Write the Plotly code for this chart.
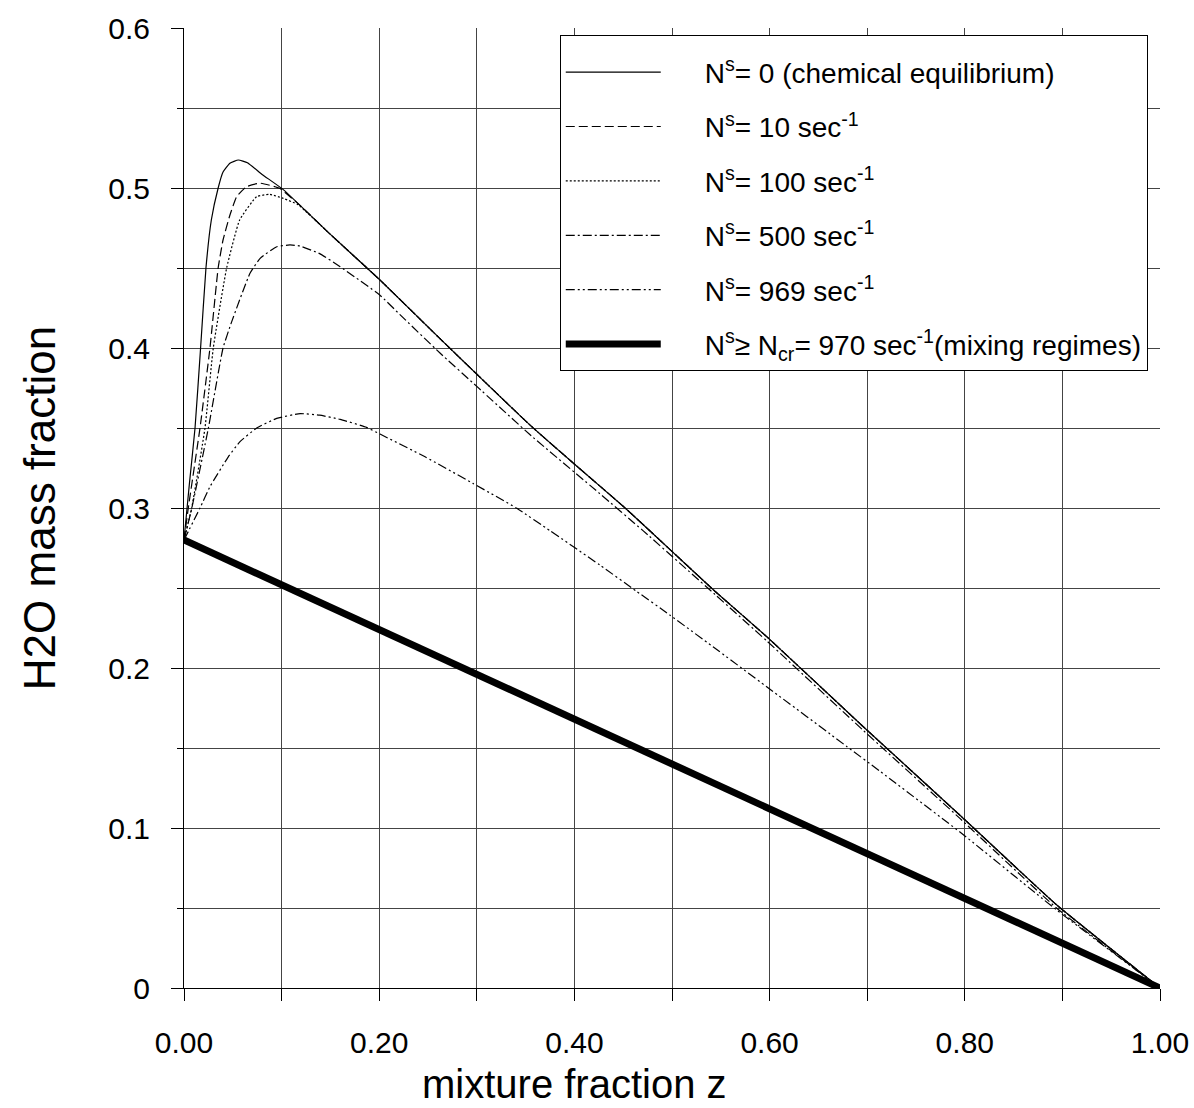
import plotly.graph_objects as go

# ---- data ----
z_eq = [0, 0.0055, 0.0113, 0.017, 0.0225, 0.028, 0.035, 0.040, 0.047, 0.0557, 0.065, 0.08, 0.1017,
        0.15, 0.2008, 0.262, 0.356, 0.399, 0.452, 0.498, 0.544, 0.597, 0.696, 0.795, 0.894, 1.0]
y_eq = [0.28, 0.315, 0.35, 0.40, 0.45, 0.48, 0.50, 0.510, 0.5155, 0.5175, 0.5158, 0.5085, 0.499,
        0.471, 0.4425, 0.406, 0.351, 0.328, 0.300, 0.274, 0.248, 0.2196, 0.1633, 0.108, 0.052, 0.0]

z_10 = [0, 0.0044, 0.0164, 0.0266, 0.035, 0.040, 0.047, 0.054, 0.064, 0.078, 0.098, 0.12,
        0.15, 0.2008, 0.262, 0.356, 0.399, 0.452, 0.498, 0.544, 0.597, 0.696, 0.795, 0.894, 1.0]
y_10 = [0.28, 0.30, 0.35, 0.40, 0.45, 0.4675, 0.483, 0.4946, 0.5008, 0.503, 0.4998, 0.4885,
        0.471, 0.4425, 0.406, 0.351, 0.328, 0.300, 0.274, 0.248, 0.2196, 0.1633, 0.108, 0.052, 0.0]

z_100 = [0, 0.0079, 0.0215, 0.030, 0.0437, 0.057, 0.0745, 0.088, 0.1017, 0.117,
         0.15, 0.2008, 0.262, 0.356, 0.399, 0.452, 0.498, 0.544, 0.597, 0.696, 0.795, 0.894, 1.0]
y_100 = [0.28, 0.30, 0.35, 0.40, 0.45, 0.48, 0.4946, 0.496, 0.4935, 0.4895,
         0.471, 0.4425, 0.406, 0.351, 0.328, 0.300, 0.274, 0.248, 0.2196, 0.1633, 0.108, 0.052, 0.0]

z_500 = [0, 0.008, 0.025, 0.040, 0.0489, 0.0676, 0.078, 0.095, 0.1086, 0.119, 0.139, 0.16,
         0.2008, 0.221, 0.262, 0.30, 0.356, 0.426, 0.47, 0.544, 0.597, 0.696, 0.795, 0.894, 1.0]
y_500 = [0.28, 0.30, 0.35, 0.40, 0.4165, 0.4467, 0.456, 0.4633, 0.4644, 0.4637, 0.459, 0.4508,
         0.433, 0.421, 0.397, 0.376, 0.345, 0.309, 0.286, 0.246, 0.217, 0.161, 0.106, 0.050, 0.0]

z_969 = [0, 0.0164, 0.0266, 0.0454, 0.0574, 0.0745, 0.095, 0.119, 0.139, 0.16, 0.187, 0.2008,
         0.247, 0.296, 0.341, 0.375, 0.426, 0.464, 0.498, 0.542, 0.597, 0.679, 0.713, 0.795,
         0.894, 0.976, 1.0]
y_969 = [0.28, 0.30, 0.3133, 0.332, 0.3415, 0.350, 0.356, 0.359, 0.358, 0.3554, 0.3504, 0.3462,
         0.332, 0.3154, 0.2998, 0.2858, 0.2644, 0.2478, 0.233, 0.2133, 0.1883, 0.151, 0.1355,
         0.0975, 0.0488, 0.011, 0.0]

z_mix = [0, 1.0]
y_mix = [0.28, 0.0]

pad = "\u00a0" * 5
names = [
    pad + "N<sup>s</sup>= 0 (chemical equilibrium)",
    pad + "N<sup>s</sup>= 10 sec<sup>-1</sup>",
    pad + "N<sup>s</sup>= 100 sec<sup>-1</sup>",
    pad + "N<sup>s</sup>= 500 sec<sup>-1</sup>",
    pad + "N<sup>s</sup>= 969 sec<sup>-1</sup>",
    pad + "N<sup>s</sup>≥ N<sub>cr</sub>= 970 sec<sup>-1</sup>(mixing regimes)",
]

x_ticks = [0.0, 0.2, 0.4, 0.6, 0.8, 1.0]
y_ticks = [0, 0.1, 0.2, 0.3, 0.4, 0.5, 0.6]

series = [
    (z_eq, y_eq, "solid", 1.2),
    (z_10, y_10, "9px,4px", 1.2),
    (z_100, y_100, "2px,2px", 1.2),
    (z_500, y_500, "9px,3px,2px,3px", 1.2),
    (z_969, y_969, "9px,3px,2px,3px,2px,3px", 1.2),
    (z_mix, y_mix, "solid", 7),
]

fig = go.Figure()
for i, ((zx, yy, dash, w), nm) in enumerate(zip(series, names)):
    fig.add_trace(go.Scatter(
        x=zx, y=yy, mode="lines", name=nm, legendgroup=f"g{i}",
        line=dict(color="black", width=w, dash=dash,
                  shape="spline" if len(zx) > 2 else "linear", smoothing=0.4),
    ))

font_family = "Liberation Sans, Arial, sans-serif"
fig.update_layout(
    width=1194, height=1108,
    margin=dict(l=184, r=34, t=28, b=120, autoexpand=False),
    paper_bgcolor="white", plot_bgcolor="white",
    font=dict(family=font_family, color="black"),
    legend=dict(
        x=0.385, y=0.993, xanchor="left", yanchor="top",
        bgcolor="white", bordercolor="black", borderwidth=1,
        font=dict(size=28, family=font_family, color="black"),
        itemwidth=95, tracegroupgap=15, traceorder="grouped",
        title=dict(text="\u00a0", font=dict(size=9)),
    ),
    annotations=[dict(
        text="mixture fraction z", xref="paper", yref="paper",
        x=0.40, y=-0.125, xanchor="center", yanchor="bottom",
        showarrow=False, font=dict(size=40, family=font_family, color="black"),
    )],
)
fig.update_xaxes(
    range=[0, 1], tickvals=x_ticks, tickformat=".2f", automargin=False,
    showline=True, linecolor="black", linewidth=1, zeroline=False,
    showgrid=True, gridcolor="#444", gridwidth=1,
    ticks="outside", ticklen=12, tickcolor="black",
    ticklabelstandoff=16,
    tickfont=dict(size=30, family=font_family, color="black"),
    minor=dict(dtick=0.1, tick0=0, showgrid=True, gridcolor="#444", gridwidth=1,
               ticks="outside", ticklen=12, tickcolor="black"),
)
fig.update_yaxes(
    range=[0, 0.6], tickvals=y_ticks, automargin=False,
    showline=True, linecolor="black", linewidth=1, zeroline=False,
    showgrid=True, gridcolor="#444", gridwidth=1,
    ticks="outside", ticklen=12, tickcolor="black",
    ticklabelstandoff=15,
    tickfont=dict(size=30, family=font_family, color="black"),
    minor=dict(dtick=0.05, tick0=0, showgrid=True, gridcolor="#444", gridwidth=1,
               ticks="outside", ticklen=6, tickcolor="black"),
    title=dict(text="H2O mass fraction", standoff=38,
               font=dict(size=44, family=font_family, color="black")),
)

fig.write_html("out.html")
